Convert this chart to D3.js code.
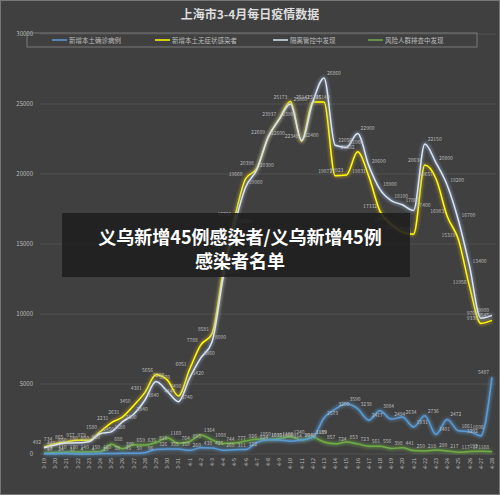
<!DOCTYPE html>
<html><head><meta charset="utf-8">
<script src="https://cdn.jsdelivr.net/npm/d3@7"></script>
<style>body{margin:0;background:#404040}</style>
</head><body>
<script>
const w = 500, h = 495;
const dates = ["3-19","3-20","3-21","3-22","3-23","3-24","3-25","3-26","3-27","3-28","3-29","3-30","3-31",
  "4-1","4-2","4-3","4-4","4-5","4-6","4-7","4-8","4-9","4-10","4-11","4-12","4-13","4-14","4-15","4-16",
  "4-17","4-18","4-19","4-20","4-21","4-22","4-23","4-24","4-25","4-26","4-27","4-28"];
const confirmed = [17,24,31,4,4,29,38,45,50,96,326,355,358,260,438,425,268,311,322,824,1015,1006,914,994,1189,
  2573,3200,3590,3238,2417,3084,2494,2634,1931,2736,1401,2472,1661,1606,1292,5487];
const asymptomatic = [492,734,865,977,979,1580,2231,2631,3450,4381,5656,5298,4144,6051,7788,8581,13086,16766,
  19660,20398,22609,23937,25173,22348,25141,25146,19872,19923,21582,19831,17332,16407,15861,15698,20634,19657,
  16983,15319,11956,9330,9545];
const quarantine = [440,650,780,800,880,1450,1580,2300,2840,3840,5170,4490,3740,5420,6860,8000,12610,16300,
  19060,20300,22600,23900,25000,22400,25140,26860,22050,21900,22900,20600,18900,18100,17800,17400,22150,20800,
  19200,16700,13400,9700,9900];
const screening = [60,110,130,140,150,160,688,380,659,635,816,1160,764,895,1364,1008,744,777,926,1050,1030,1100,
  1240,1010,1189,857,724,853,723,561,556,398,441,250,218,280,217,117,171,192,168];
const yTicks = [0,5000,10000,15000,20000,25000,30000];
const seriesNames = ["新增本土确诊病例","新增本土无症状感染者","隔离管控中发现","风险人群排查中发现"];
const colors = ["#5b9bd5","#ffff00","#dde4f0","#70ad47"];
const glows = ["#5b9bd5","#c9a227","#8fa6c8","#70ad47"];

const svg = d3.select("body").append("svg").attr("width", w).attr("height", h)
  .style("font-family", "'Noto Sans CJK SC', sans-serif");
svg.append("rect").attr("x",0.5).attr("y",0.5).attr("width",w-1).attr("height",h-1)
  .attr("fill","#404040").attr("stroke","#777");

const defs = svg.append("defs");
const f = defs.append("filter").attr("id","glow").attr("x","-10%").attr("y","-10%").attr("width","120%").attr("height","120%");
f.append("feGaussianBlur").attr("stdDeviation",1.6);

const x = d3.scalePoint().domain(dates).range([44, 492]);
const y = d3.scaleLinear().domain([0, 30000]).range([454, 34]);

// grid
svg.append("g").selectAll("line").data(yTicks).enter().append("line")
  .attr("x1", 40).attr("x2", 496).attr("y1", d => y(d)).attr("y2", d => y(d))
  .attr("stroke", "#555").attr("stroke-width", 0.8);
svg.append("g").selectAll("text").data(yTicks).enter().append("text")
  .attr("x", 33).attr("y", d => y(d) + 2).attr("text-anchor","end")
  .attr("font-size", 6).attr("fill", "#bbb").text(d => d);

// x labels
svg.append("g").selectAll("text").data(dates).enter().append("text")
  .attr("transform", d => `translate(${x(d)+2},458) rotate(-90)`)
  .attr("text-anchor","end").attr("font-size", 5.5).attr("fill", "#bbb").text(d => d);

// title
svg.append("text").attr("x", 250).attr("y", 19).attr("text-anchor","middle")
  .attr("font-size", 12).attr("font-weight","bold").attr("fill","#ddd").text("上海市3-4月每日疫情数据");

// legend
svg.append("rect").attr("x",27).attr("y",33).attr("width",450).attr("height",14)
  .attr("fill","none").attr("stroke","#888").attr("stroke-width",0.8);
const lx = [52, 155, 273, 368];
seriesNames.forEach((n, i) => {
  svg.append("line").attr("x1", lx[i]).attr("x2", lx[i]+15).attr("y1",40).attr("y2",40)
    .attr("stroke", colors[i]).attr("stroke-width", 1.5);
  svg.append("text").attr("x", lx[i]+17).attr("y", 42.5).attr("font-size", 6.5).attr("fill","#bbb").text(n);
});

const all = [confirmed, asymptomatic, quarantine, screening];
const order = [3, 0, 1, 2];
const line = d3.line().x((d, i) => x(dates[i])).y(d => y(d)).curve(d3.curveMonotoneX);
order.forEach(k => {
  svg.append("path").datum(all[k]).attr("d", line).attr("fill","none")
    .attr("stroke", glows[k]).attr("stroke-width", 4).attr("opacity", 0.55).attr("filter","url(#glow)");
  svg.append("path").datum(all[k]).attr("d", line).attr("fill","none")
    .attr("stroke", colors[k]).attr("stroke-width", 1.5);
});

// data labels
const n = dates.length;
order.forEach(k => {
  svg.append("g").selectAll("text").data(all[k]).enter().append("text")
    .attr("x", (d, i) => x(dates[i]) + (k === 1 || i >= n - 2 ? -3 : 3))
    .attr("y", d => y(d) - 3).attr("text-anchor", (d, i) => k === 1 || i >= n - 2 ? "end" : "start")
    .attr("font-size", 5).attr("fill", "#bbb").text(d => d);
});

// overlay banner
svg.append("rect").attr("x",62).attr("y",213).attr("width",348).attr("height",64)
  .attr("fill","#1e1e1e").attr("opacity",0.88);
svg.append("text").attr("x",240).attr("y",244).attr("text-anchor","middle")
  .attr("font-size",18).attr("font-weight","bold").attr("fill","#fff").text("义乌新增45例感染者/义乌新增45例");
svg.append("text").attr("x",240).attr("y",268).attr("text-anchor","middle")
  .attr("font-size",18).attr("font-weight","bold").attr("fill","#fff").text("感染者名单");
</script>
</body></html>
